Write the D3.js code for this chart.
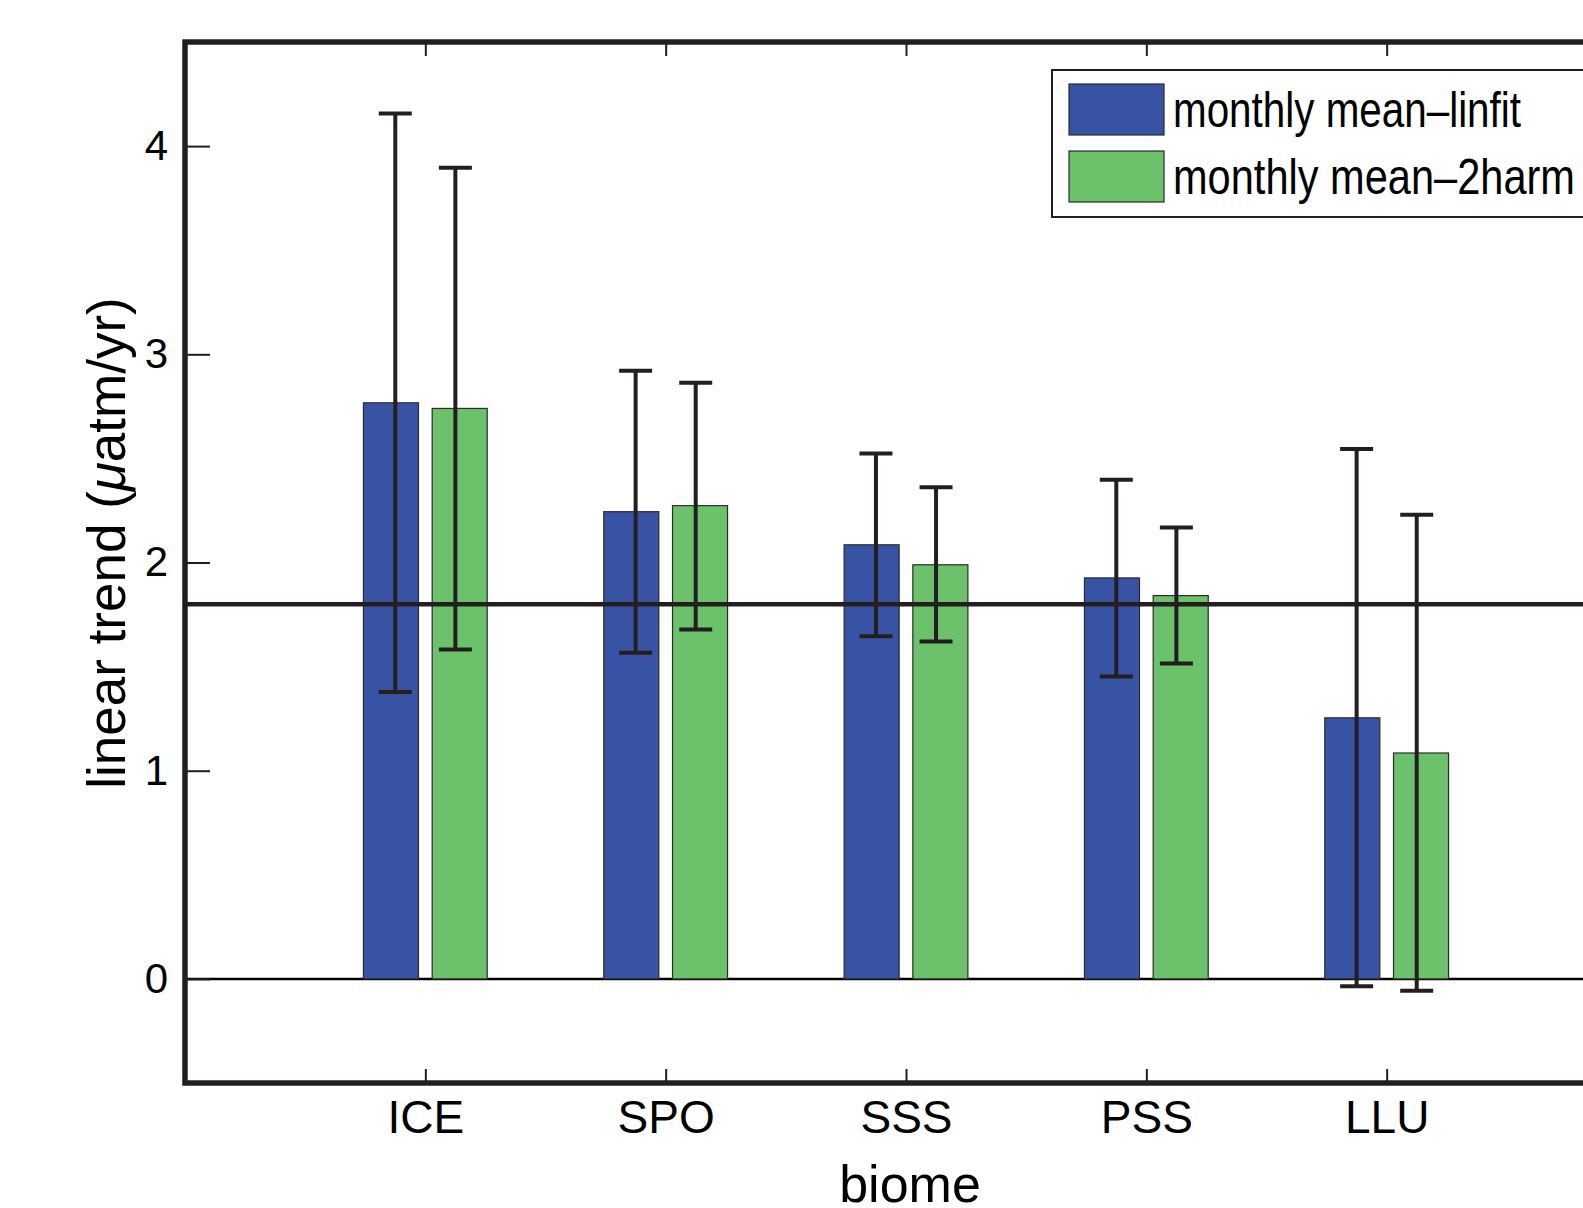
<!DOCTYPE html>
<html>
<head>
<meta charset="utf-8">
<script src="https://cdn.jsdelivr.net/npm/d3@7"></script>
<style>
  body { margin: 0; background: #fff; overflow: hidden; }
  text { font-family: "Liberation Sans", Arial, Helvetica, sans-serif; fill: #000; }
</style>
</head>
<body>
<div id="chart"></div>
<script>
// data
var biomes = ["ICE", "SPO", "SSS", "PSS", "LLU"];
var seriesNames = ["monthly mean\u2013linfit", "monthly mean\u20132harm"];
var linfit   = [2.767, 2.244, 2.085, 1.926, 1.254];
var linfitLo = [1.378, 1.567, 1.646, 1.453, -0.035];
var linfitHi = [4.156, 2.921, 2.524, 2.398, 2.545];
var harm     = [2.740, 2.273, 1.989, 1.841, 1.085];
var harmLo   = [1.582, 1.678, 1.620, 1.515, -0.057];
var harmHi   = [3.896, 2.863, 2.362, 2.168, 2.229];
var yTicks = [0, 1, 2, 3, 4];
var refLevel = 1.8;

(function() {
  var width = 1583, height = 1208;
  var left = 185, top = 42, right = 1627, bottom = 1083;
  var colors = ["#3953a4", "#6cc16b"];
  var ink = "#231f20";

  var svg = d3.select("#chart")
    .append("svg")
    .attr("width", width)
    .attr("height", height);

  var x = d3.scaleLinear().domain([0, 6]).range([left, right]);
  var y = d3.scaleLinear().domain([-0.5, 4.5]).range([bottom, top]);

  var rows = biomes.map(function(b, i) {
    return { biome: b, pos: i + 1,
      vals: [
        { s: 0, v: linfit[i], lo: linfitLo[i], hi: linfitHi[i] },
        { s: 1, v: harm[i], lo: harmLo[i], hi: harmHi[i] }
      ] };
  });
  var flat = [];
  rows.forEach(function(r) { r.vals.forEach(function(d) { d.pos = r.pos; flat.push(d); }); });

  var barOff = 0.143, barW = 0.229, errOff = 0.125, capW = 33;

  // zero line
  svg.append("line")
    .attr("x1", left).attr("x2", width)
    .attr("y1", y(0)).attr("y2", y(0))
    .attr("stroke", "#000").attr("stroke-width", 2.5);

  // bars
  svg.selectAll(".bar")
    .data(flat)
    .enter().append("rect")
    .attr("class", "bar")
    .attr("x", function(d) { return x(d.pos + (d.s ? barOff : -barOff) - barW / 2); })
    .attr("width", function() { return x(barW) - x(0); })
    .attr("y", function(d) { return y(d.v); })
    .attr("height", function(d) { return y(0) - y(d.v); })
    .attr("fill", function(d) { return colors[d.s]; })
    .attr("stroke", "#2b2b2b")
    .attr("stroke-width", 1.2);

  // reference line
  svg.append("line")
    .attr("x1", left).attr("x2", width)
    .attr("y1", y(refLevel)).attr("y2", y(refLevel))
    .attr("stroke", ink).attr("stroke-width", 4.5);

  // error bars
  var err = svg.selectAll(".err")
    .data(flat)
    .enter().append("g")
    .attr("class", "err")
    .attr("transform", function(d) { return "translate(" + x(d.pos + (d.s ? errOff : -errOff)) + ",0)"; })
    .attr("stroke", ink)
    .attr("stroke-width", 4);
  err.append("line")
    .attr("y1", function(d) { return y(d.lo); })
    .attr("y2", function(d) { return y(d.hi); });
  err.append("line")
    .attr("x1", -capW / 2).attr("x2", capW / 2)
    .attr("y1", function(d) { return y(d.hi); })
    .attr("y2", function(d) { return y(d.hi); });
  err.append("line")
    .attr("x1", -capW / 2).attr("x2", capW / 2)
    .attr("y1", function(d) { return y(d.lo); })
    .attr("y2", function(d) { return y(d.lo); });

  // axes
  var yAxis = svg.append("g")
    .attr("transform", "translate(" + left + ",0)")
    .call(d3.axisLeft(y).tickValues(yTicks).tickFormat(d3.format("d"))
      .tickSizeInner(-25).tickSizeOuter(0).tickPadding(17));
  var xAxis = svg.append("g")
    .attr("transform", "translate(0," + bottom + ")")
    .call(d3.axisBottom(x).tickValues(d3.range(1, biomes.length + 1))
      .tickFormat(function(d) { return biomes[d - 1]; })
      .tickSizeInner(-14).tickSizeOuter(0).tickPadding(17));
  var xTop = svg.append("g")
    .attr("transform", "translate(0," + top + ")")
    .call(d3.axisTop(x).tickValues(d3.range(1, biomes.length + 1))
      .tickFormat("").tickSizeInner(-14).tickSizeOuter(0));

  [yAxis, xAxis, xTop].forEach(function(a) {
    a.select(".domain").remove();
    a.selectAll(".tick line").attr("stroke", ink).attr("stroke-width", 2);
    a.selectAll(".tick text")
      .attr("font-family", "'Liberation Sans', Arial, sans-serif")
      .attr("fill", "#000");
  });
  yAxis.selectAll(".tick text").attr("font-size", 42);
  xAxis.selectAll(".tick text").attr("font-size", 46);

  // frame
  svg.append("rect")
    .attr("x", left).attr("y", top)
    .attr("width", right - left).attr("height", bottom - top)
    .attr("fill", "none")
    .attr("stroke", ink)
    .attr("stroke-width", 5.5);

  // axis titles
  svg.append("text")
    .attr("x", 910).attr("y", 1202)
    .attr("text-anchor", "middle")
    .attr("font-size", 52)
    .text("biome");

  var yl = svg.append("text")
    .attr("transform", "translate(125,543) rotate(-90)")
    .attr("text-anchor", "middle")
    .attr("font-size", 53);
  yl.append("tspan").text("linear trend (");
  yl.append("tspan").attr("font-style", "italic").text("\u03bc");
  yl.append("tspan").text("atm/yr)");

  // legend
  var leg = svg.append("g");
  leg.append("rect")
    .attr("x", 1052).attr("y", 70)
    .attr("width", 600).attr("height", 147)
    .attr("fill", "#fff")
    .attr("stroke", ink).attr("stroke-width", 2);
  var items = leg.selectAll(".item")
    .data(seriesNames)
    .enter().append("g")
    .attr("transform", function(d, i) { return "translate(0," + (i * 67) + ")"; });
  items.append("rect")
    .attr("x", 1069).attr("y", 84)
    .attr("width", 95).attr("height", 51)
    .attr("fill", function(d, i) { return colors[i]; })
    .attr("stroke", "#2b2b2b").attr("stroke-width", 1.2);
  items.append("text")
    .attr("x", 1173).attr("y", 127)
    .attr("font-size", 50)
    .attr("textLength", function(d, i) { return i ? 402 : 348; })
    .attr("lengthAdjust", "spacingAndGlyphs")
    .text(function(d) { return d; });
})();
</script>
</body>
</html>
